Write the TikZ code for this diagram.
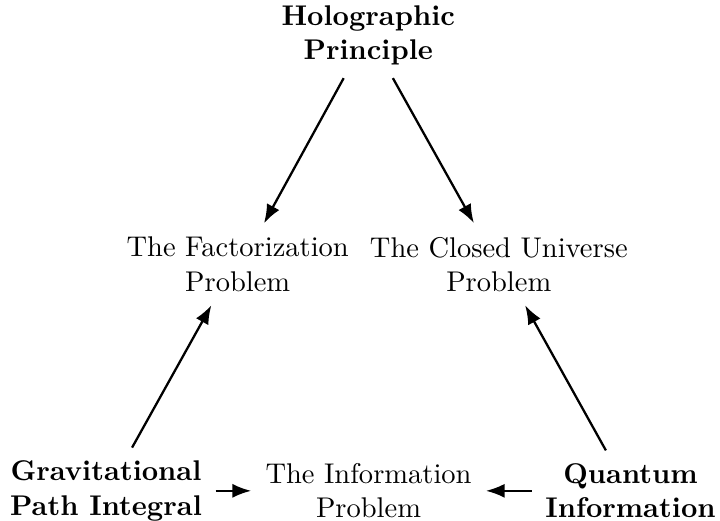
\documentclass[tikz,border=0pt]{standalone}
\usepackage{tikz}
\usetikzlibrary{arrows.meta,positioning}

\begin{document}
\begin{tikzpicture}[
every node/.style={align=center},
lead/.style={font=\bfseries},
prob/.style={font=\normalfont},
arr/.style={-Latex, thick, shorten >=1.5pt, shorten <=1.3pt}
]
\useasboundingbox (0,0) rectangle (252.6pt,182.5pt);

% Top: the principle
\node[lead] (holo) at (129.2pt,170.2pt) {Holographic\\Principle};

% Middle row: the two problems
\node[prob] (fact) at (83.4pt,89.8pt) {The Factorization\\Problem};
\node[prob] (closed) at (175pt,89.8pt) {The Closed Universe\\Problem};
\draw[arr] ([xshift=-8pt]holo.south) -- ([xshift=8.5pt]fact.north);
\draw[arr] ([xshift=8pt]holo.south) -- ([xshift=-8pt]closed.north);

% Bottom row
\node[prob] (info) at (129.3pt,10.3pt) {The Information\\Problem};
\node[lead] (grav) at (37.2pt,10.3pt) {Gravitational\\Path Integral};
\node[lead] (quant) at (221.2pt,10.3pt) {Quantum\\Information};
\draw[arr] ([xshift=8.5pt]grav.north) -- ([xshift=-8.5pt]fact.south);
\draw[arr] ([xshift=-8pt]quant.north) -- ([xshift=8.5pt]closed.south);
\draw[arr] (grav) -- (info);
\draw[arr] (quant) -- (info);

\end{tikzpicture}
\end{document}
